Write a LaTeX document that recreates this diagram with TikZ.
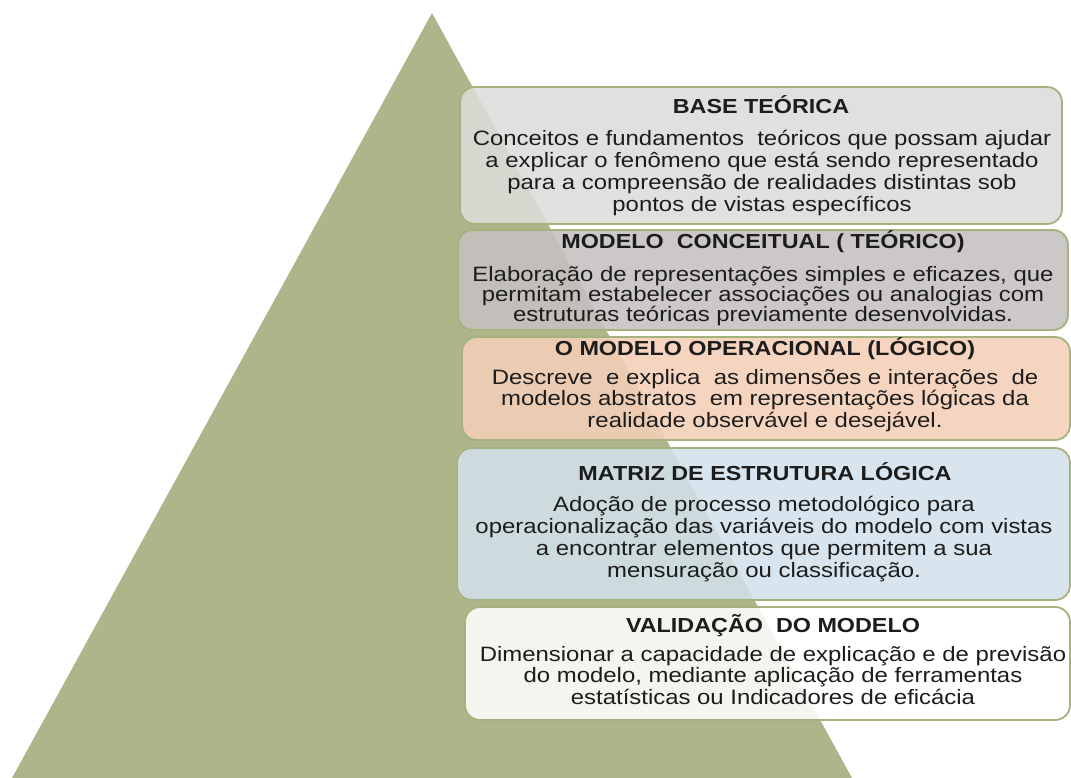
\documentclass[tikz,border=0pt]{standalone}
\usepackage{fontspec}
\setmainfont{Liberation Sans}[FakeStretch=1.15]
\definecolor{tri}{RGB}{174,181,138}
\definecolor{bordc}{RGB}{166,178,126}
\definecolor{txtc}{RGB}{28,28,28}
\definecolor{fillA}{RGB}{222,219,218}
\definecolor{fillB}{RGB}{197,192,192}
\definecolor{fillC}{RGB}{245,207,183}
\definecolor{fillD}{RGB}{210,225,235}
\definecolor{fillE}{RGB}{255,255,255}
\tikzset{
  layerbox/.style={draw=bordc, line width=1.8pt, rounded corners=15pt, fill opacity=0.87, inner sep=0pt, outer sep=0pt},
  ttl/.style={font=\fontsize{20.3}{22}\selectfont\bfseries, anchor=base, text=txtc, inner sep=0pt},
  bdy/.style={font=\fontsize{20.8}{22}\selectfont, align=center, anchor=base, text=txtc, inner sep=0pt},
  bdytight/.style={bdy, font=\fontsize{20.8}{20}\selectfont},
  bdymid/.style={bdy, font=\fontsize{20.8}{21.5}\selectfont}
}
\begin{document}
\begin{tikzpicture}[x=1pt,y=1pt]
\useasboundingbox (0,0) rectangle (1071,-778);
% pyramid
\coordinate (apex) at (432,-13);
\coordinate (bl) at (12,-778);
\coordinate (br) at (852,-778);
\fill[tri] (apex) -- (br) -- (bl) -- cycle;
% boxes
\node[layerbox, fill=fillA, minimum width=602pt, minimum height=137pt] (box1) at (761,-155.5) {};
\node[layerbox, fill=fillB, minimum width=610pt, minimum height=100pt] (box2) at (763,-280) {};
\node[layerbox, fill=fillC, minimum width=608pt, minimum height=103pt] (box3) at (766,-388.5) {};
\node[layerbox, fill=fillD, minimum width=613pt, minimum height=152pt] (box4) at (763.5,-524) {};
\node[layerbox, fill=fillE, minimum width=605pt, minimum height=113pt] (box5) at (767.5,-663.5) {};
% texts (body nodes are anchored at the baseline of their last line)
\node[ttl] (t1) at (761,-114) {BASE TEÓRICA};
\node[bdy] (b1) at (762,-211.5) {Conceitos e fundamentos~ teóricos que possam ajudar\\a explicar o fenômeno que está sendo representado\\para a compreensão de realidades distintas sob\\pontos de vistas específicos};
\node[ttl] (t2) at (763,-249) {MODELO~ CONCEITUAL ( TEÓRICO)};
\node[bdytight] (b2) at (763,-321) {Elaboração de representações simples e eficazes, que\\permitam estabelecer associações ou analogias com\\estruturas teóricas previamente desenvolvidas.};
\node[ttl] (t3) at (765,-355) {O MODELO OPERACIONAL (LÓGICO)};
\node[bdymid] (b3) at (765,-427) {Descreve~ e explica~ as dimensões e interações~ de\\modelos abstratos~ em representações lógicas da\\realidade observável e desejável.};
\node[ttl] (t4) at (765,-480) {MATRIZ DE ESTRUTURA LÓGICA};
\node[bdy] (b4) at (764,-577) {Adoção de processo metodológico para\\operacionalização das variáveis do modelo com vistas\\a encontrar elementos que permitem a sua\\mensuração ou classificação.};
\node[ttl] (t5) at (773,-632) {VALIDAÇÃO~ DO MODELO};
\node[bdymid] (b5) at (773,-704) {Dimensionar a capacidade de explicação e de previsão\\do modelo, mediante aplicação de ferramentas\\estatísticas ou Indicadores de eficácia};
\end{tikzpicture}
\end{document}
